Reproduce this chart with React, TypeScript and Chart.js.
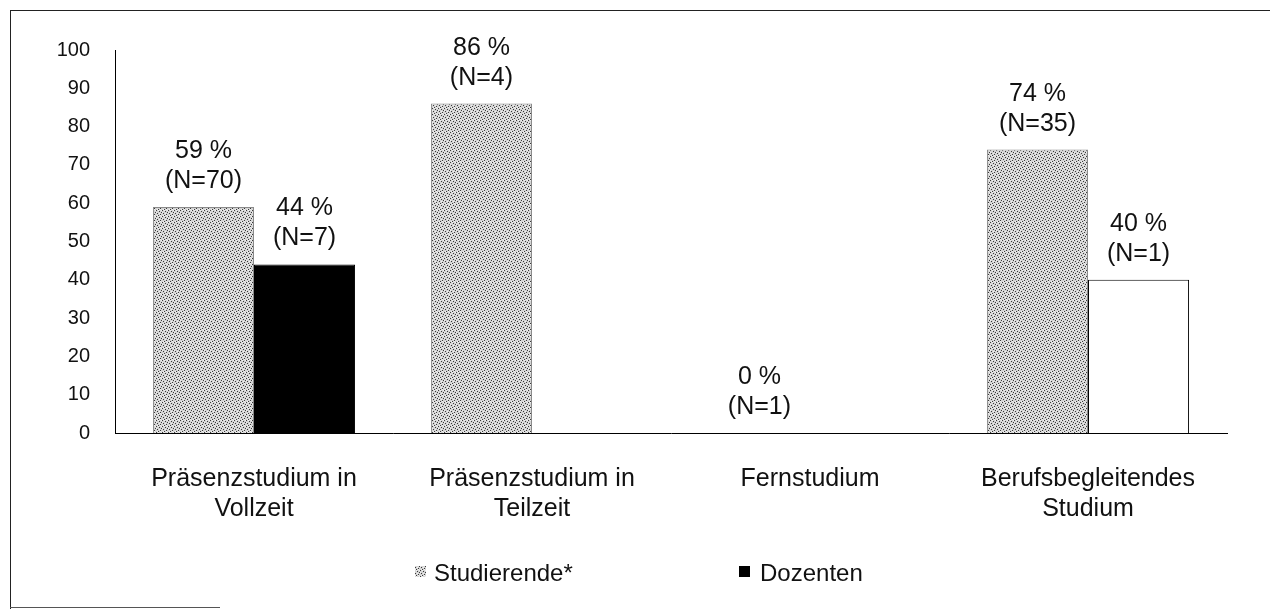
import React, { useEffect, useRef } from "react";
import { Chart, registerables } from "chart.js";

Chart.register(...registerables);

const categories: (string | string[])[] = [
  ["Präsenzstudium in", "Vollzeit"],
  ["Präsenzstudium in", "Teilzeit"],
  "Fernstudium",
  ["Berufsbegleitendes", "Studium"],
];
const seriesNames = ["Studierende*", "Dozenten"];
const studierendeValues: (number | null)[] = [59, 86, 0, 74];
const studierendeN: (number | null)[] = [70, 4, 1, 35];
const dozentenValues: (number | null)[] = [44, null, null, 40];
const dozentenN: (number | null)[] = [7, null, null, 1];
const yMin = 0;
const yMax = 100;
const yStep = 10;

const FONT = "'Liberation Sans', Arial, sans-serif";

function makePattern(ctx: CanvasRenderingContext2D): CanvasPattern | string {
  const c = document.createElement("canvas");
  c.width = 6;
  c.height = 6;
  const g = c.getContext("2d");
  if (!g) return "#c4c4c4";
  g.fillStyle = "#d4d4d4";
  g.fillRect(0, 0, 6, 6);
  g.fillStyle = "#3a3a3a";
  const dark = [[0, 0], [3, 1], [1, 3], [4, 4], [5, 2], [2, 5]];
  dark.forEach(([x, y]) => g.fillRect(x, y, 1, 1));
  g.fillStyle = "#f0f0f0";
  const light = [[2, 0], [5, 0], [0, 2], [3, 3], [1, 5], [4, 5]];
  light.forEach(([x, y]) => g.fillRect(x, y, 1, 1));
  return ctx.createPattern(c, "repeat") || "#c4c4c4";
}

export default function App() {
  const canvasRef = useRef<HTMLCanvasElement | null>(null);

  useEffect(() => {
    const canvas = canvasRef.current;
    if (!canvas) return;
    const ctx = canvas.getContext("2d");
    if (!ctx) return;
    const pattern = makePattern(ctx);
    const nLists = [studierendeN, dozentenN];

    const labelPlugin = {
      id: "barLabels",
      afterDatasetsDraw(chart: any) {
        const c = chart.ctx;
        c.save();
        c.font = `25px ${FONT}`;
        c.fillStyle = "#111";
        c.textAlign = "center";
        c.textBaseline = "alphabetic";
        chart.data.datasets.forEach((ds: any, i: number) => {
          const meta = chart.getDatasetMeta(i);
          meta.data.forEach((el: any, j: number) => {
            const v = ds.data[j];
            if (v === null || v === undefined) return;
            const n = nLists[i][j];
            c.fillText(`${v} %`, el.x, el.y - 49);
            c.fillText(`(N=${n})`, el.x, el.y - 19);
          });
        });
        c.restore();
      },
    };

    const legendPlugin = {
      id: "customLegend",
      afterDraw(chart: any) {
        const c = chart.ctx;
        c.save();
        c.font = `24px ${FONT}`;
        c.textAlign = "left";
        c.textBaseline = "alphabetic";
        const items = [
          { box: 415, text: 434, fill: pattern },
          { box: 739, text: 760, fill: "#000" },
        ];
        items.forEach((it, i) => {
          c.fillStyle = it.fill as any;
          c.fillRect(it.box, 566, 11, 11);
          c.fillStyle = "#111";
          c.fillText(seriesNames[i], it.text, 581);
        });
        c.restore();
      },
    };

    const chart = new Chart(canvas, {
      type: "bar",
      data: {
        labels: categories as any,
        datasets: [
          {
            label: seriesNames[0],
            data: studierendeValues,
            backgroundColor: pattern as any,
            borderColor: "rgba(60,60,60,0.6)",
            borderWidth: 1,
            borderSkipped: "start",
          },
          {
            label: seriesNames[1],
            data: dozentenValues,
            backgroundColor: ["#000", "#000", "#000", "#fff"],
            borderColor: "#000",
            borderWidth: 1,
            borderSkipped: "start",
          },
        ],
      },
      options: {
        responsive: false,
        animation: false,
        devicePixelRatio: 1,
        layout: { padding: { top: 50, right: 43, left: 0, bottom: 0 } },
        plugins: {
          legend: { display: false },
          tooltip: { enabled: false },
          title: { display: false },
        },
        datasets: {
          bar: { categoryPercentage: 0.727, barPercentage: 1.0 },
        },
        scales: {
          x: {
            grid: { display: false, drawTicks: false },
            border: { display: true, color: "#000", width: 1 },
            ticks: {
              color: "#111",
              font: { family: FONT, size: 25, lineHeight: 1.2 },
              padding: 31,
              maxRotation: 0,
              autoSkip: false,
            },
            afterFit: (scale: any) => {
              scale.height = 176;
            },
          },
          y: {
            min: yMin,
            max: yMax,
            grid: { display: false, drawTicks: false },
            border: { display: true, color: "#000", width: 1 },
            ticks: {
              stepSize: yStep,
              color: "#111",
              font: { family: FONT, size: 20 },
              padding: 25,
            },
            afterFit: (scale: any) => {
              scale.width = 115;
            },
          },
        },
      },
      plugins: [labelPlugin, legendPlugin],
    });

    return () => {
      chart.destroy();
    };
  }, []);

  return (
    <div
      style={{
        position: "fixed",
        left: 0,
        top: 0,
        width: 1270,
        height: 609,
        background: "#fff",
        overflow: "hidden",
      }}
    >
      <canvas
        ref={canvasRef}
        width={1270}
        height={609}
        style={{ position: "absolute", left: 0, top: 0, width: 1270, height: 609 }}
      />
      <div
        style={{
          position: "absolute",
          left: 10,
          top: 10,
          width: 1270,
          height: 620,
          borderLeft: "1.5px solid #222",
          borderTop: "1.5px solid #222",
          boxSizing: "border-box",
        }}
      />
      <div
        style={{
          position: "absolute",
          left: 10,
          top: 607,
          width: 210,
          height: 0,
          borderTop: "1px solid #555",
        }}
      />
    </div>
  );
}
